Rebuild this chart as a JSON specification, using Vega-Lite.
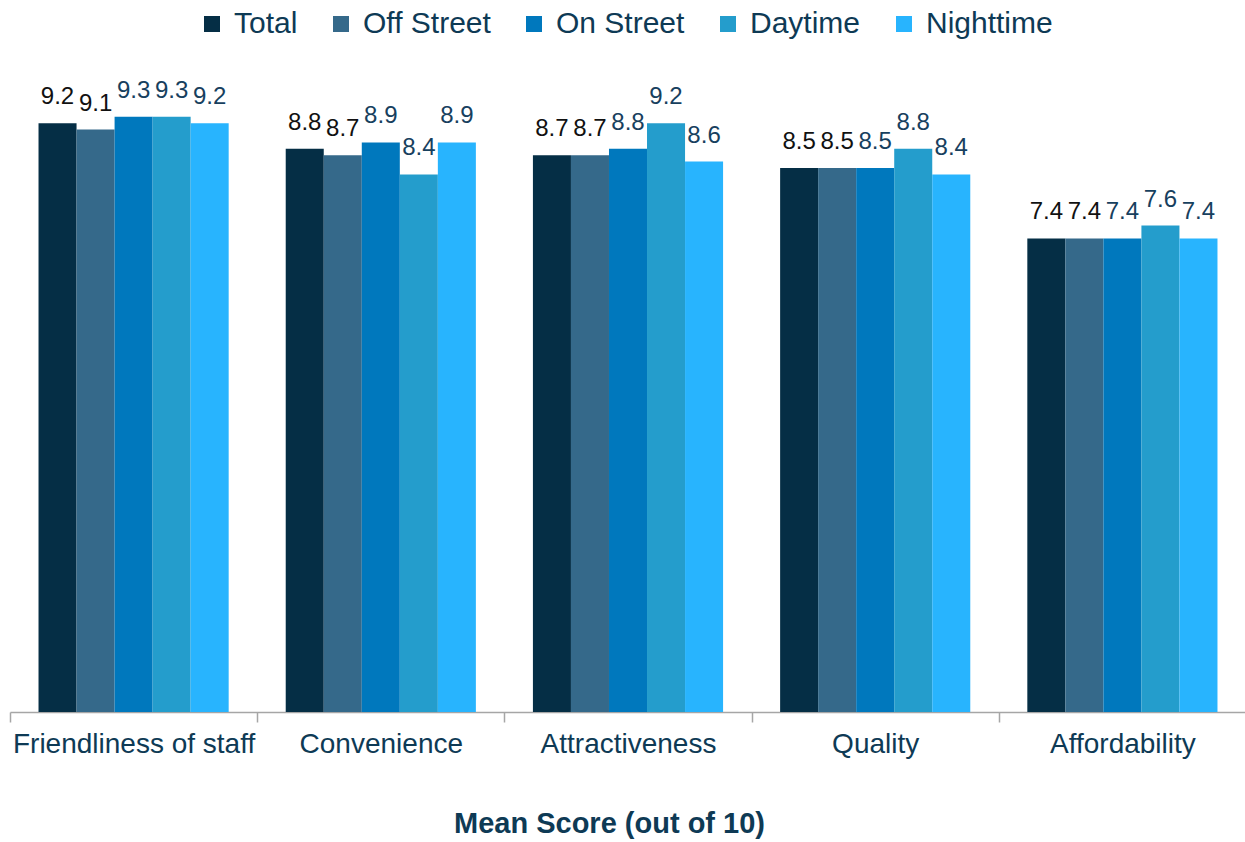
{
  "$schema": "https://vega.github.io/schema/vega-lite/v6.json",
  "width": 1236,
  "height": 640,
  "autosize": {"type": "none"},
  "padding": {"left": 10, "top": 72, "right": 0, "bottom": 130},
  "background": "white",
  "config": {
    "font": "Liberation Sans",
    "view": {"stroke": null}
  },
  "data": {
    "values": [
      {"aspect": "Friendliness of staff", "series": "Total", "score": 9.2},
      {"aspect": "Friendliness of staff", "series": "Off Street", "score": 9.1},
      {"aspect": "Friendliness of staff", "series": "On Street", "score": 9.3},
      {"aspect": "Friendliness of staff", "series": "Daytime", "score": 9.3},
      {"aspect": "Friendliness of staff", "series": "Nighttime", "score": 9.2},
      {"aspect": "Convenience", "series": "Total", "score": 8.8},
      {"aspect": "Convenience", "series": "Off Street", "score": 8.7},
      {"aspect": "Convenience", "series": "On Street", "score": 8.9},
      {"aspect": "Convenience", "series": "Daytime", "score": 8.4},
      {"aspect": "Convenience", "series": "Nighttime", "score": 8.9},
      {"aspect": "Attractiveness", "series": "Total", "score": 8.7},
      {"aspect": "Attractiveness", "series": "Off Street", "score": 8.7},
      {"aspect": "Attractiveness", "series": "On Street", "score": 8.8},
      {"aspect": "Attractiveness", "series": "Daytime", "score": 9.2},
      {"aspect": "Attractiveness", "series": "Nighttime", "score": 8.6},
      {"aspect": "Quality", "series": "Total", "score": 8.5},
      {"aspect": "Quality", "series": "Off Street", "score": 8.5},
      {"aspect": "Quality", "series": "On Street", "score": 8.5},
      {"aspect": "Quality", "series": "Daytime", "score": 8.8},
      {"aspect": "Quality", "series": "Nighttime", "score": 8.4},
      {"aspect": "Affordability", "series": "Total", "score": 7.4},
      {"aspect": "Affordability", "series": "Off Street", "score": 7.4},
      {"aspect": "Affordability", "series": "On Street", "score": 7.4},
      {"aspect": "Affordability", "series": "Daytime", "score": 7.6},
      {"aspect": "Affordability", "series": "Nighttime", "score": 7.4}
    ]
  },
  "encoding": {
    "x": {
      "field": "aspect",
      "type": "nominal",
      "sort": null,
      "scale": {"paddingInner": 0, "paddingOuter": 0},
      "axis": {
        "title": "Mean Score (out of 10)",
        "titleFontSize": 29,
        "titleFontWeight": "bold",
        "titleColor": "#0e3a55",
        "titleAnchor": "start",
        "titleAlign": "center",
        "titleX": 599,
        "titleY": 120,
        "titleBaseline": "alphabetic",
        "labelAngle": 0,
        "labelFontSize": 28,
        "labelLimit": 0,
        "labelColor": "#0e3a55",
        "labelPadding": 8,
        "tickBand": "extent",
        "tickSize": 10,
        "tickColor": "#a6a6a6",
        "domainColor": "#a6a6a6",
        "domainWidth": 1.5,
        "tickWidth": 1.5
      }
    },
    "xOffset": {
      "field": "series",
      "type": "nominal",
      "sort": ["Total", "Off Street", "On Street", "Daytime", "Nighttime"],
      "scale": {"paddingInner": 0, "paddingOuter": 0.75}
    },
    "y": {
      "field": "score",
      "type": "quantitative",
      "scale": {"domain": [0, 10], "nice": false},
      "axis": null
    }
  },
  "layer": [
    {
      "mark": {"type": "bar"},
      "encoding": {
        "color": {
          "field": "series",
          "type": "nominal",
          "sort": ["Total", "Off Street", "On Street", "Daytime", "Nighttime"],
          "scale": {
            "domain": ["Total", "Off Street", "On Street", "Daytime", "Nighttime"],
            "range": ["#052e45", "#35698a", "#0078bd", "#249dcc", "#28b4fe"]
          },
          "legend": {
            "title": null,
            "orient": "none",
            "direction": "horizontal",
            "legendX": 187,
            "legendY": -63,
            "symbolType": "square",
            "symbolSize": 256,
            "symbolStrokeWidth": 0,
            "labelFontSize": 30,
            "labelColor": "#0e3a55",
            "labelOffset": 7,
            "columnPadding": 28
          }
        }
      }
    },
    {
      "mark": {"type": "text", "baseline": "alphabetic", "dy": -19, "fontSize": 24},
      "encoding": {
        "text": {"field": "score", "type": "quantitative", "format": ".1f"},
        "color": {
          "condition": {"test": "datum.series === 'Total' || datum.series === 'Off Street'", "value": "#111111"},
          "value": "#17405e"
        }
      }
    }
  ]
}
